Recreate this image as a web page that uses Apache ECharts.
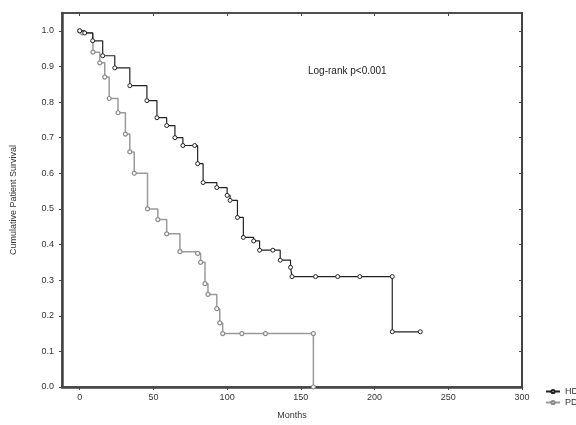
<!DOCTYPE html>
<html>
<head>
<meta charset="utf-8">
<script src="https://cdn.jsdelivr.net/npm/echarts@6/dist/echarts.min.js"></script>
<style>
html, body { margin: 0; padding: 0; background: #fff; }
#chart { width: 576px; height: 425px; }
</style>
</head>
<body>
<div id="chart"></div>
<script>
// HD (upper, dark) curve
var hdMonths   = [0, 3.4, 8.8, 15.6, 23.8, 34, 45.6, 52.4, 59, 64.6, 70, 78, 80, 83.7, 93, 100, 102, 107, 111, 118, 122, 131, 136, 143, 144, 160, 175, 190, 212, 212, 231];
var hdSurvival = [1.0, 0.994, 0.972, 0.93, 0.896, 0.846, 0.804, 0.756, 0.734, 0.70, 0.678, 0.678, 0.627, 0.574, 0.56, 0.538, 0.524, 0.476, 0.42, 0.41, 0.384, 0.384, 0.356, 0.336, 0.31, 0.31, 0.31, 0.31, 0.31, 0.155, 0.155];
// PD (lower, grey) curve
var pdMonths   = [0, 2, 9, 13.6, 17, 20, 26, 31, 34, 37, 46, 53, 59, 68, 80, 82, 85, 87, 93, 95, 97, 110, 126, 158.5, 158.5];
var pdSurvival = [1.0, 0.994, 0.94, 0.91, 0.87, 0.81, 0.77, 0.71, 0.66, 0.60, 0.50, 0.47, 0.43, 0.38, 0.375, 0.35, 0.29, 0.26, 0.22, 0.18, 0.15, 0.15, 0.15, 0.15, 0.0];
var xTicks = [0, 50, 100, 150, 200, 250, 300];
var yTicks = [0, 0.1, 0.2, 0.3, 0.4, 0.5, 0.6, 0.7, 0.8, 0.9, 1.0];
var seriesNames = ['HD', 'PD'];

function pairs(xs, ys) {
    var out = [];
    for (var i = 0; i < xs.length; i++) {
        out.push([xs[i], ys[i]]);
    }
    return out;
}

var font = 'Liberation Sans';
var chart = echarts.init(document.getElementById('chart'));
var option = {
    animation: false,
    backgroundColor: '#fff',
    grid: {
        left: 62, right: 54, top: 13, bottom: 38,
        show: true, borderColor: '#444', borderWidth: 1.5
    },
    legend: {
        data: seriesNames,
        orient: 'vertical',
        left: 540, top: 382,
        itemWidth: 14, itemHeight: 4, itemGap: 2,
        textStyle: { fontFamily: font, fontSize: 9, color: '#333' }
    },
    graphic: [{
        type: 'text', left: 308, top: 66,
        style: { text: 'Log-rank p<0.001', font: '10px ' + font, fill: '#222' }
    }],
    xAxis: [{
        type: 'value', min: -12, max: 300,
        name: 'Months', nameLocation: 'middle', nameGap: 24,
        nameTextStyle: { fontFamily: font, fontSize: 9, color: '#333' },
        axisLine: { onZero: false, lineStyle: { color: '#444', width: 2.5 } },
        axisTick: { customValues: xTicks, length: 3, lineStyle: { color: '#444' } },
        axisLabel: { customValues: xTicks, fontFamily: font, fontSize: 9, color: '#333', margin: 6 },
        splitLine: { show: false }
    }, {
        type: 'value', min: -12, max: 300, position: 'top',
        axisLine: { onZero: false, lineStyle: { color: '#444', width: 1.5 } },
        axisTick: { customValues: xTicks, inside: true, length: 3, lineStyle: { color: '#444' } },
        axisLabel: { show: false },
        splitLine: { show: false }
    }],
    yAxis: [{
        type: 'value', min: 0, max: 1.05,
        name: 'Cumulative Patient Survival', nameLocation: 'middle', nameGap: 44,
        nameTextStyle: { fontFamily: font, fontSize: 9, color: '#333' },
        axisLine: { show: true, onZero: false, lineStyle: { color: '#444', width: 2.5 } },
        axisTick: { show: true, customValues: yTicks, length: 3, lineStyle: { color: '#444' } },
        axisLabel: {
            customValues: yTicks, fontFamily: font, fontSize: 9, color: '#333', margin: 8,
            formatter: function (v) { return v.toFixed(1); }
        },
        splitLine: { show: false }
    }, {
        type: 'value', min: 0, max: 1.05, position: 'right',
        axisLine: { show: true, onZero: false, lineStyle: { color: '#444', width: 2 } },
        axisTick: { show: true, customValues: yTicks, inside: true, length: 3, lineStyle: { color: '#444' } },
        axisLabel: { show: false },
        splitLine: { show: false }
    }],
    series: [{
        name: seriesNames[0], type: 'line', step: 'end',
        data: pairs(hdMonths, hdSurvival),
        symbol: 'circle', symbolSize: 4, showSymbol: true,
        lineStyle: { color: '#222', width: 1.2 },
        itemStyle: { color: '#fff', borderColor: '#222', borderWidth: 1 },
        z: 3
    }, {
        name: seriesNames[1], type: 'line', step: 'end',
        data: pairs(pdMonths, pdSurvival),
        symbol: 'circle', symbolSize: 4, showSymbol: true,
        lineStyle: { color: '#9a9a9a', width: 1.5 },
        itemStyle: { color: '#fff', borderColor: '#8a8a8a', borderWidth: 1.2 },
        z: 2
    }]
};
chart.setOption(option);
</script>
</body>
</html>
